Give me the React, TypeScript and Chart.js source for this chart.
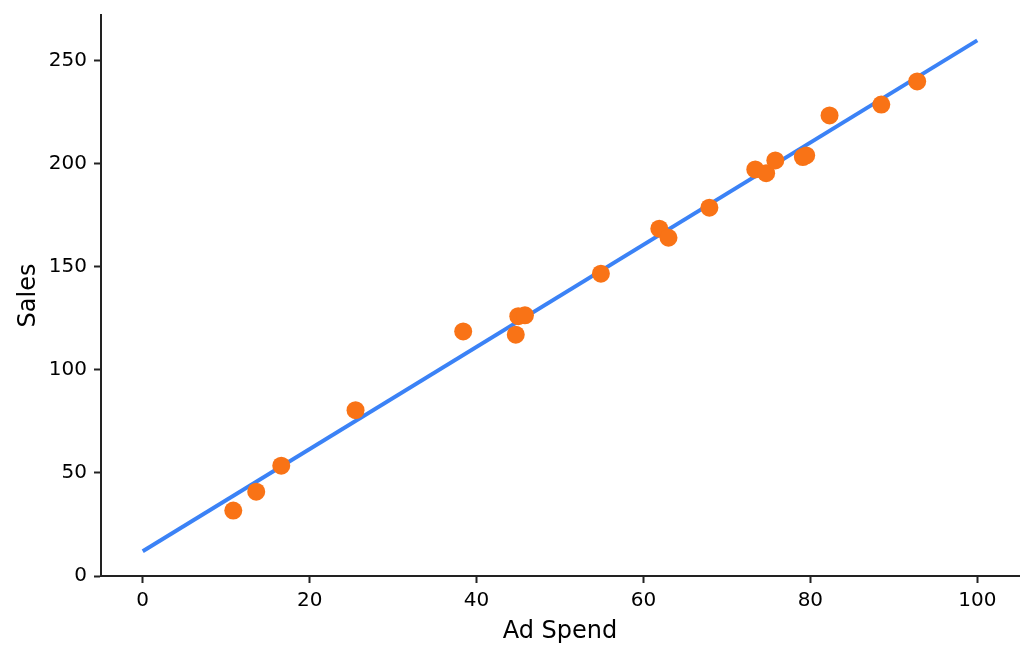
import { useEffect, useRef } from "react";
import Chart from "chart.js/auto";

// Ad spend vs sales
const adSpend = [
  10.85, 13.6, 16.6, 25.5, 38.4, 44.7, 45.0, 45.8, 54.9, 61.9,
  63.0, 67.9, 73.4, 74.7, 75.8, 79.1, 79.5, 82.3, 88.5, 92.8,
];
const sales = [
  31.7, 40.9, 53.5, 80.4, 118.6, 117.0, 126.0, 126.4, 146.6, 168.4,
  164.0, 178.6, 197.1, 195.3, 201.5, 203.1, 203.9, 223.3, 228.6, 239.8,
];

// fitted trend line end points
const fitX = [0, 100];
const fitY = [12.0, 259.7];

const xTicks = [0, 20, 40, 60, 80, 100];
const yTicks = [0, 50, 100, 150, 200, 250];

const axisColor = "#222";
const fontFamily = "'DejaVu Sans', sans-serif";

export default function App() {
  const chartRef = useRef<HTMLCanvasElement>(null);
  const chartInstance = useRef<Chart | null>(null);

  useEffect(() => {
    document.body.style.margin = "0";
    if (!chartRef.current) return;
    if (chartInstance.current) chartInstance.current.destroy();

    const ctx = chartRef.current.getContext("2d");
    if (!ctx) return;

    chartInstance.current = new Chart(ctx, {
      type: "scatter",
      data: {
        datasets: [
          {
            label: "Sales",
            data: adSpend.map((x, i) => ({ x, y: sales[i] })),
            backgroundColor: "#f97316",
            borderWidth: 0,
            pointRadius: 9,
            order: 1,
          },
          {
            label: "Fit",
            data: fitX.map((x, i) => ({ x, y: fitY[i] })),
            showLine: true,
            borderColor: "#3b82f6",
            borderWidth: 4,
            pointRadius: 0,
            order: 2,
          },
        ],
      },
      options: {
        responsive: false,
        animation: false,
        devicePixelRatio: 1,
        layout: { padding: { left: 0, right: 15, top: 15, bottom: 0 } },
        plugins: {
          legend: { display: false },
          tooltip: { enabled: false },
        },
        scales: {
          x: {
            type: "linear",
            min: -5,
            max: 105,
            afterBuildTicks: (scale: any) => {
              scale.ticks = xTicks.map((value) => ({ value }));
            },
            afterFit: (scale: any) => {
              scale.height = 82;
              scale.paddingLeft = 0;
              scale.paddingRight = 0;
            },
            ticks: {
              font: { family: fontFamily, size: 20 },
              color: "#000",
              padding: 6,
              maxRotation: 0,
            },
            grid: {
              drawOnChartArea: false,
              drawTicks: true,
              tickLength: 7,
              tickWidth: 2,
              color: axisColor,
            },
            border: { display: true, color: axisColor, width: 2 },
            title: {
              display: true,
              text: "Ad Spend",
              color: "#000",
              font: { family: fontFamily, size: 24 },
              padding: { top: 0, bottom: 12 },
            },
          },
          y: {
            type: "linear",
            min: 0,
            max: 272,
            afterBuildTicks: (scale: any) => {
              scale.ticks = yTicks.map((value) => ({ value }));
            },
            afterFit: (scale: any) => {
              scale.width = 101;
              scale.paddingTop = 0;
              scale.paddingBottom = 0;
            },
            ticks: {
              font: { family: fontFamily, size: 20 },
              color: "#000",
              padding: 7,
            },
            grid: {
              drawOnChartArea: false,
              drawTicks: true,
              tickLength: 7,
              tickWidth: 2,
              color: axisColor,
            },
            border: { display: true, color: axisColor, width: 2 },
            title: {
              display: true,
              text: "Sales",
              color: "#000",
              font: { family: fontFamily, size: 24 },
              padding: { top: 14, bottom: 0 },
            },
          },
        },
      },
    });

    return () => {
      if (chartInstance.current) {
        chartInstance.current.destroy();
        chartInstance.current = null;
      }
    };
  }, []);

  return (
    <div style={{ width: 1034, height: 658 }}>
      <canvas ref={chartRef} width={1034} height={658} />
    </div>
  );
}
